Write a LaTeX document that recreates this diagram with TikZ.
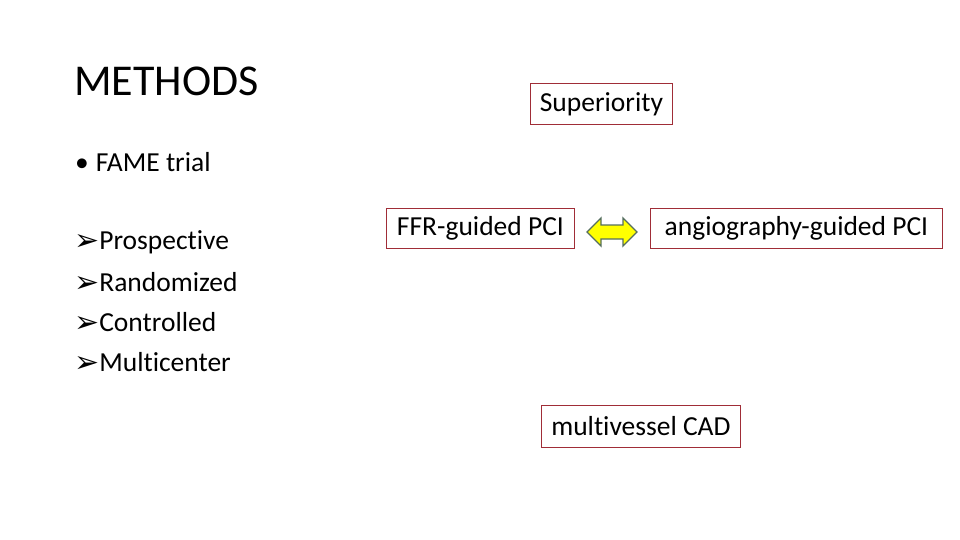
\documentclass[tikz,border=0pt]{standalone}
\usepackage{fontspec}
\setmainfont[Ligatures=NoCommon]{Carlito}
\newfontfamily\symfont{DejaVu Sans}
\definecolor{boxred}{RGB}{160,45,55}
\definecolor{arrowline}{RGB}{85,110,95}
\definecolor{arrowfill}{RGB}{255,255,0}
\newcommand{\arrbul}{{\symfont\fontsize{30}{30}\selectfont\raisebox{-1pt}{➢}}}
\begin{document}
\begin{tikzpicture}[x=1pt,y=-1pt,
  box/.style={draw=boxred,line width=0.9pt,inner sep=0pt,font=\fontsize{27.5}{30}\selectfont,anchor=north west},
  txt/.style={inner sep=0pt,anchor=west,font=\fontsize{27.5}{30}\selectfont},
  bul/.style={txt}]
\useasboundingbox (0,0) rectangle (960,540);
\node[inner sep=0pt,anchor=west,font=\fontsize{44}{48}\selectfont] (title) at (74,81) {METHODS};
\node[box,minimum width=142pt,minimum height=41pt] (sup) at (530,83) {Superiority};
\node[txt] (fame) at (75,162) {•\hspace{7pt}FAME trial};
\node[bul] (b1) at (74,242) {\arrbul Prospective};
\node[bul] (b2) at (74,282) {\arrbul Randomized};
\node[bul] (b3) at (74,322) {\arrbul Controlled};
\node[bul] (b4) at (74,362) {\arrbul Multicenter};
\node[box,minimum width=188pt,minimum height=40pt] (ffr) at (386,208) {FFR-guided PCI};
\node[box,minimum width=292pt,minimum height=40pt] (ang) at (650,208) {angiography-guided PCI};
\node[box,minimum width=199pt,minimum height=42pt] (cad) at (541,405) {multivessel CAD};
\coordinate (dl) at (587,232);
\coordinate (dr) at (637,232);
\draw[draw=arrowline,fill=arrowfill,line width=1.3pt,line join=miter]
  (dl) -- ++(14,-14) -- ++(0,7) -- ++(22,0) -- ++(0,-7) -- (dr)
  -- ++(-14,14) -- ++(0,-7) -- ++(-22,0) -- ++(0,7) -- cycle;
\end{tikzpicture}
\end{document}
